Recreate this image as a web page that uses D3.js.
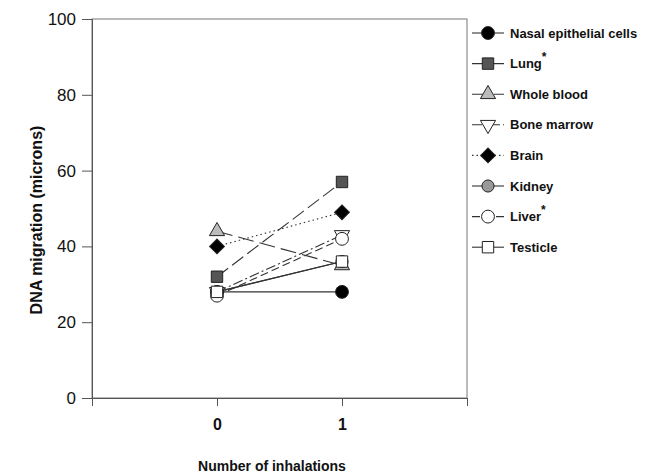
<!DOCTYPE html>
<html>
<head>
<meta charset="utf-8">
<script src="https://d3js.org/d3.v7.min.js"></script>
<style>
  body { margin: 0; background: #fff; }
  text { font-family: "Liberation Sans", Arial, sans-serif; }
</style>
</head>
<body>
<script>
// data
const inhalations = [0, 1];
const tissues = ["Nasal epithelial cells", "Lung", "Whole blood", "Bone marrow", "Brain", "Kidney", "Liver", "Testicle"];
const starred = ["Lung", "Liver"];
const nasal = [28, 28];
const lung = [32, 57];
const wholeBlood = [44, 35];
const boneMarrow = [28, 43];
const brain = [40, 49];
const kidney = [28, 36];
const liver = [27, 42];
const testicle = [28, 36];
const yTicks = [0, 20, 40, 60, 80, 100];

const seriesValues = [nasal, lung, wholeBlood, boneMarrow, brain, kidney, liver, testicle];

// marker / line look for each series
const styles = [
  { shape: d3.symbolCircle, size: 130, fill: "#000", dash: null },
  { shape: d3.symbolSquare, size: 130, fill: "#555", dash: "14,5" },
  { shape: d3.symbolTriangle, size: 100, fill: "#bbb", dash: "16,6" },
  { shape: d3.symbolTriangle, size: 100, fill: "#fff", dash: "10,3,2,3", rot: 180 },
  { shape: d3.symbolSquare, size: 110, fill: "#000", dash: "1.5,3", rot: 45 },
  { shape: d3.symbolCircle, size: 115, fill: "#999", dash: null },
  { shape: d3.symbolCircle, size: 130, fill: "#fff", dash: "8,4" },
  { shape: d3.symbolSquare, size: 130, fill: "#fff", dash: null }
];

const width = 650, height = 476;
const svg = d3.select("body").append("svg")
  .attr("width", width)
  .attr("height", height);

const x = d3.scaleLinear().domain([-1, 2]).range([92, 467]);
const y = d3.scaleLinear().domain([0, 100]).range([398, 19]);

// frame
svg.append("rect")
  .attr("x", x(-1)).attr("y", y(100))
  .attr("width", x(2) - x(-1)).attr("height", y(0) - y(100))
  .attr("fill", "none").attr("stroke", "#777").attr("stroke-width", 1);

// y axis
const yAxis = svg.append("g")
  .attr("transform", `translate(${x(-1)},0)`)
  .call(d3.axisLeft(y).tickValues(yTicks).tickSize(10).tickPadding(6));
yAxis.select(".domain").attr("stroke", "#555");
yAxis.selectAll(".tick line").attr("stroke", "#555");
yAxis.selectAll("text").attr("font-size", 17).attr("fill", "#111");

// x axis
const xAxis = svg.append("g")
  .attr("transform", `translate(0,${y(0)})`)
  .call(d3.axisBottom(x).tickValues([-1, 0, 1, 2]).tickSize(8)
    .tickFormat(d => inhalations.includes(d) ? d : ""));
xAxis.select(".domain").attr("stroke", "#555");
xAxis.selectAll(".tick line").attr("stroke", "#555");
xAxis.selectAll("text").attr("font-size", 16).attr("font-weight", "bold")
  .attr("fill", "#111").attr("dy", "1.3em");

// axis titles
svg.append("text")
  .attr("transform", `translate(42,220) rotate(-90)`)
  .attr("text-anchor", "middle")
  .attr("font-size", 16).attr("font-weight", "bold").attr("fill", "#111")
  .text("DNA migration (microns)");

svg.append("text")
  .attr("x", 272).attr("y", 471)
  .attr("text-anchor", "middle")
  .attr("font-size", 14).attr("font-weight", "bold").attr("fill", "#111")
  .text("Number of inhalations");

// lines
const line = d3.line().x((d, i) => x(inhalations[i])).y(d => y(d));
svg.append("g")
  .selectAll("path")
  .data(seriesValues)
  .join("path")
  .attr("d", d => line(d))
  .attr("fill", "none")
  .attr("stroke", "#333")
  .attr("stroke-width", 1.1)
  .attr("stroke-dasharray", (d, i) => styles[i].dash);

// markers
function marker(g, st, cx, cy) {
  g.append("path")
    .attr("d", d3.symbol().type(st.shape).size(st.size)())
    .attr("transform", `translate(${cx},${cy}) rotate(${st.rot || 0})`)
    .attr("fill", st.fill)
    .attr("stroke", "#222")
    .attr("stroke-width", 1);
}

const markers = svg.append("g");
seriesValues.forEach((vals, i) => {
  vals.forEach((v, j) => marker(markers, styles[i], x(inhalations[j]), y(v)));
});

// legend
const legend = svg.append("g");
tissues.forEach((name, i) => {
  const ly = 33 + i * 30.6;
  legend.append("line")
    .attr("x1", 472).attr("x2", 504)
    .attr("y1", ly).attr("y2", ly)
    .attr("stroke", "#333").attr("stroke-width", 1.1)
    .attr("stroke-dasharray", styles[i].dash);
  marker(legend, styles[i], 488, ly);
  const t = legend.append("text")
    .attr("x", 510).attr("y", ly + 4.5)
    .attr("font-size", 13).attr("font-weight", "bold").attr("fill", "#111")
    .text(name);
  if (starred.includes(name)) {
    t.append("tspan").attr("dy", -7).attr("font-size", 12).text("*");
  }
});
</script>
</body>
</html>
